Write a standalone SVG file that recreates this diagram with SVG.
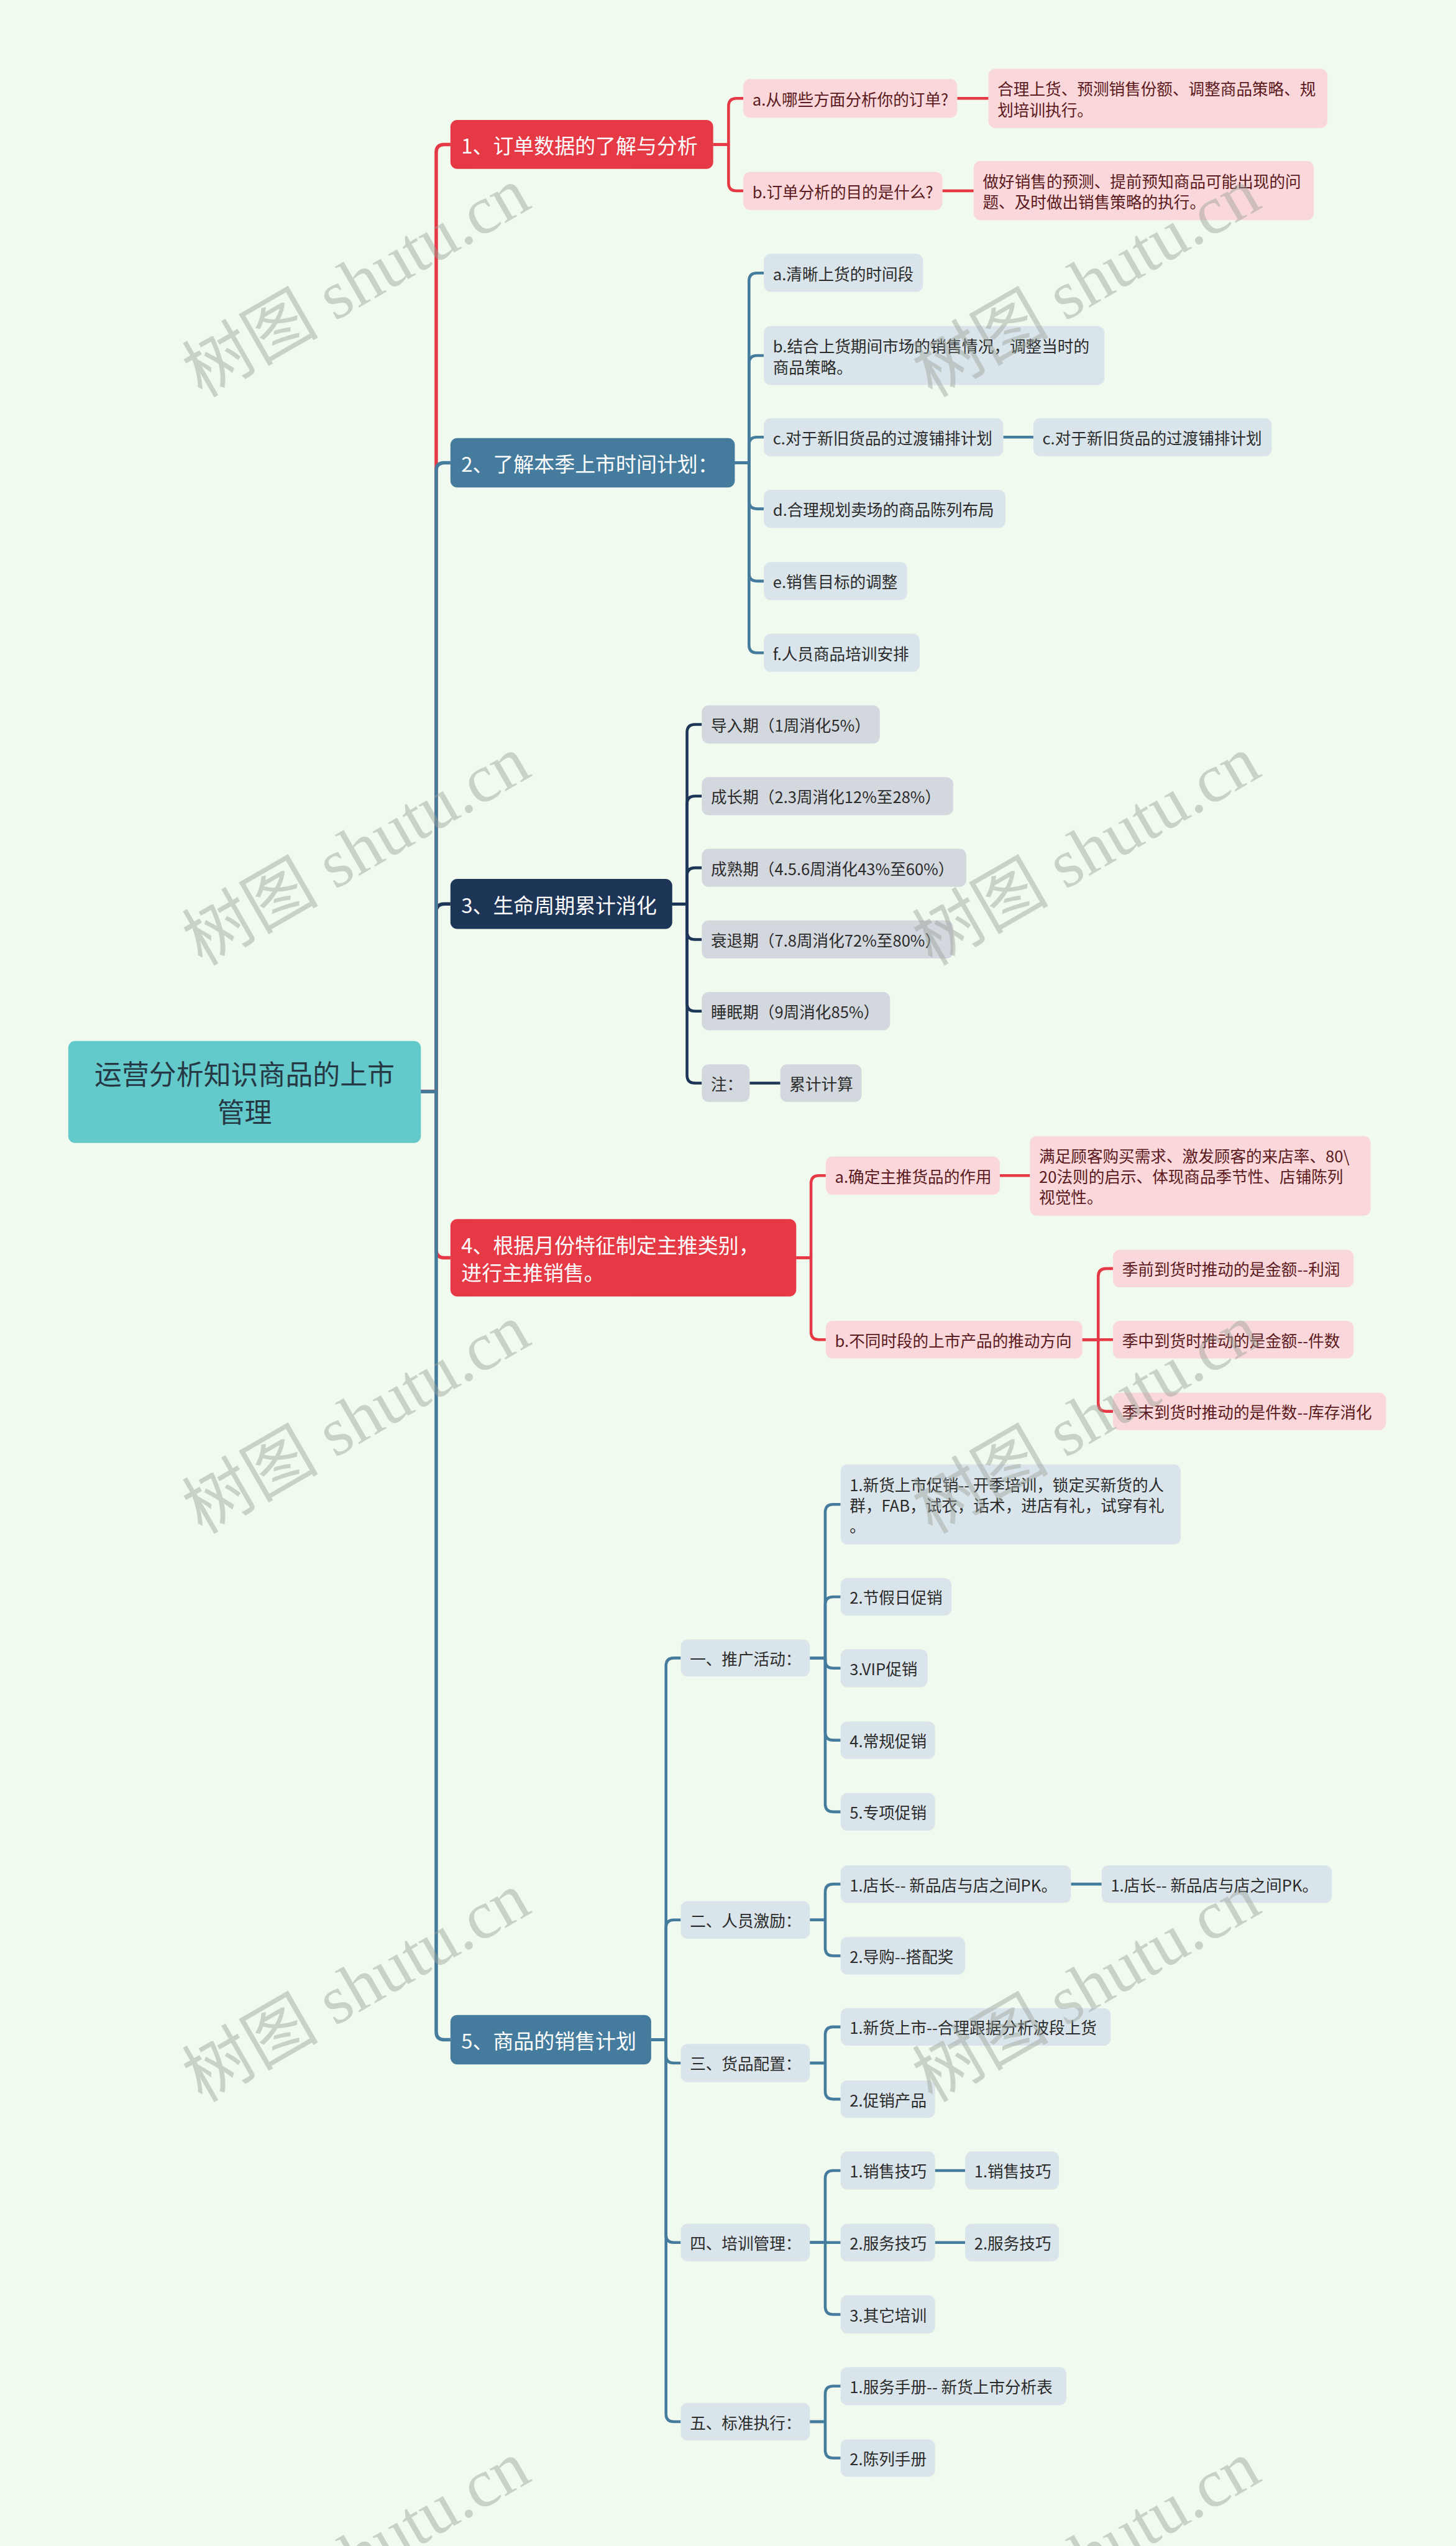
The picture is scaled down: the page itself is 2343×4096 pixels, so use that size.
<svg xmlns="http://www.w3.org/2000/svg" width="2343" height="4096" viewBox="0 0 2343 4096">
<style>
.bg{fill:#F1FAEE}
.root{fill:#63C9CA}
.rt{font-family:"Noto Sans CJK SC","Noto Sans",sans-serif;font-size:48px;fill:#263844;text-anchor:middle;dominant-baseline:central}
.nr{fill:#E63946}.nb{fill:#457B9D}.nn{fill:#1D3557}
.t1{font-family:"Noto Sans CJK SC","Noto Sans",sans-serif;font-size:36px;fill:#FFFFFF;dominant-baseline:central}
.cr{fill:#FAD7DA}.cb{fill:#DAE5EB}.cn{fill:#D3D8DE}
.tr{font-family:"Noto Sans CJK SC","Noto Sans",sans-serif;font-size:28px;fill:#5A1A20;dominant-baseline:central}
.tb{font-family:"Noto Sans CJK SC","Noto Sans",sans-serif;font-size:28px;fill:#2B2B2B;dominant-baseline:central}
.lr,.lb,.ln{fill:none;stroke-width:5;stroke-linejoin:round}
.lr{stroke:#E63946}.lb{stroke:#457B9D}.ln{stroke:#1D3557}
.main{stroke-width:6}
.wm{font-family:"Liberation Serif","Noto Sans CJK SC",serif;font-size:120px;fill:#9AA39A;opacity:0.45}
</style>
<rect class="bg" x="0" y="0" width="2343" height="4096"/>
<g transform="scale(0.9152)">
<g id="connectors">
<path class="ln main" d="M740 1919 H767 V1603 Q767 1589 781 1589 H792"/>
<path class="lr main" d="M740 1919 H767 V268 Q767 254 781 254 H792"/>
<path class="lb main" d="M740 1919 H767 V827.5 Q767 813.5 781 813.5 H792"/>
<path class="lr main" d="M740 1919 H767 V2197 Q767 2211 781 2211 H792"/>
<path class="lb main" d="M740 1919 H767 V3571.5 Q767 3585.5 781 3585.5 H792"/>
<path class="lr" d="M1254 254 H1281 V187 Q1281 173 1295 173 H1307"/>
<path class="lr" d="M1254 254 H1281 V321.5 Q1281 335.5 1295 335.5 H1307"/>
<path class="lr" d="M1683 173 H1738"/>
<path class="lr" d="M1657 335.5 H1712"/>
<path class="lb" d="M1292 813.5 H1317 V494 Q1317 480 1331 480 H1343"/>
<path class="lb" d="M1292 813.5 H1317 V639 Q1317 625 1331 625 H1343"/>
<path class="lb" d="M1292 813.5 H1317 V782.5 Q1317 768.5 1331 768.5 H1343"/>
<path class="lb" d="M1292 813.5 H1317 V880.5 Q1317 894.5 1331 894.5 H1343"/>
<path class="lb" d="M1292 813.5 H1317 V1007.5 Q1317 1021.5 1331 1021.5 H1343"/>
<path class="lb" d="M1292 813.5 H1317 V1133.5 Q1317 1147.5 1331 1147.5 H1343"/>
<path class="lb" d="M1764 768.5 H1817"/>
<path class="ln" d="M1182 1589 H1208 V1287.5 Q1208 1273.5 1222 1273.5 H1234"/>
<path class="ln" d="M1182 1589 H1208 V1413.5 Q1208 1399.5 1222 1399.5 H1234"/>
<path class="ln" d="M1182 1589 H1208 V1539.5 Q1208 1525.5 1222 1525.5 H1234"/>
<path class="ln" d="M1182 1589 H1208 V1637.5 Q1208 1651.5 1222 1651.5 H1234"/>
<path class="ln" d="M1182 1589 H1208 V1763.5 Q1208 1777.5 1222 1777.5 H1234"/>
<path class="ln" d="M1182 1589 H1208 V1890 Q1208 1904 1222 1904 H1234"/>
<path class="ln" d="M1318 1904 H1372"/>
<path class="lr" d="M1400 2211 H1426 V2080.5 Q1426 2066.5 1440 2066.5 H1452"/>
<path class="lr" d="M1400 2211 H1426 V2341 Q1426 2355 1440 2355 H1452"/>
<path class="lr" d="M1758 2066.5 H1811"/>
<path class="lr" d="M1903 2355 H1931 V2244 Q1931 2230 1945 2230 H1957"/>
<path class="lr" d="M1903 2355 H1957"/>
<path class="lr" d="M1903 2355 H1931 V2467 Q1931 2481 1945 2481 H1957"/>
<path class="lb" d="M1145 3585.5 H1171 V2928.5 Q1171 2914.5 1185 2914.5 H1197"/>
<path class="lb" d="M1145 3585.5 H1171 V3389 Q1171 3375 1185 3375 H1197"/>
<path class="lb" d="M1145 3585.5 H1171 V3612.5 Q1171 3626.5 1185 3626.5 H1197"/>
<path class="lb" d="M1145 3585.5 H1171 V3928 Q1171 3942 1185 3942 H1197"/>
<path class="lb" d="M1145 3585.5 H1171 V4243 Q1171 4257 1185 4257 H1197"/>
<path class="lb" d="M1424 2914.5 H1451 V2658.5 Q1451 2644.5 1465 2644.5 H1478"/>
<path class="lb" d="M1424 2914.5 H1451 V2821 Q1451 2807 1465 2807 H1478"/>
<path class="lb" d="M1424 2914.5 H1451 V2918.5 Q1451 2932.5 1465 2932.5 H1478"/>
<path class="lb" d="M1424 2914.5 H1451 V3045 Q1451 3059 1465 3059 H1478"/>
<path class="lb" d="M1424 2914.5 H1451 V3171 Q1451 3185 1465 3185 H1478"/>
<path class="lb" d="M1424 3375 H1451 V3326 Q1451 3312 1465 3312 H1478"/>
<path class="lb" d="M1424 3375 H1451 V3424 Q1451 3438 1465 3438 H1478"/>
<path class="lb" d="M1883 3312 H1937"/>
<path class="lb" d="M1424 3626.5 H1451 V3577 Q1451 3563 1465 3563 H1478"/>
<path class="lb" d="M1424 3626.5 H1451 V3676 Q1451 3690 1465 3690 H1478"/>
<path class="lb" d="M1424 3942 H1451 V3829.5 Q1451 3815.5 1465 3815.5 H1478"/>
<path class="lb" d="M1424 3942 H1478"/>
<path class="lb" d="M1424 3942 H1451 V4054.5 Q1451 4068.5 1465 4068.5 H1478"/>
<path class="lb" d="M1644 3815.5 H1697"/>
<path class="lb" d="M1644 3942 H1697"/>
<path class="lb" d="M1424 4257 H1451 V4208.5 Q1451 4194.5 1465 4194.5 H1478"/>
<path class="lb" d="M1424 4257 H1451 V4307 Q1451 4321 1465 4321 H1478"/>
</g>

<g id="root"><rect class="root" x="120" y="1830" width="620" height="179" rx="12"/>
<text class="rt" x="430" y="1886">运营分析知识商品的上市</text><text class="rt" x="430" y="1953">管理</text></g>

<g id="n1"><rect class="nr" x="792" y="211" width="462" height="86" rx="12"/><text class="t1" x="811" y="254">1、订单数据的了解与分析</text></g>
<g id="n1a"><rect class="cr" x="1307" y="139" width="376" height="68" rx="12"/><text class="tr" x="1323" y="173">a.从哪些方面分析你的订单?</text></g>
<g id="n1a1"><rect class="cr" x="1738" y="121" width="596" height="104" rx="12"/><text class="tr" x="1754" y="155">合理上货、预测销售份额、调整商品策略、规</text><text class="tr" x="1754" y="192">划培训执行。</text></g>
<g id="n1b"><rect class="cr" x="1307" y="302" width="350" height="67" rx="12"/><text class="tr" x="1323" y="335.5">b.订单分析的目的是什么?</text></g>
<g id="n1b1"><rect class="cr" x="1712" y="283" width="598" height="104" rx="12"/><text class="tr" x="1728" y="317">做好销售的预测、提前预知商品可能出现的问</text><text class="tr" x="1728" y="354">题、及时做出销售策略的执行。</text></g>

<g id="n2"><rect class="nb" x="792" y="770" width="500" height="87" rx="12"/><text class="t1" x="811" y="813.5">2、了解本季上市时间计划：</text></g>
<g id="n2a"><rect class="cb" x="1343" y="446" width="280" height="67" rx="12"/><text class="tb" x="1359" y="480">a.清晰上货的时间段</text></g>
<g id="n2b"><rect class="cb" x="1343" y="573" width="599" height="104" rx="12"/><text class="tb" x="1359" y="607">b.结合上货期间市场的销售情况，调整当时的</text><text class="tb" x="1359" y="644">商品策略。</text></g>
<g id="n2c"><rect class="cb" x="1343" y="735" width="421" height="67" rx="12"/><text class="tb" x="1359" y="768.5">c.对于新旧货品的过渡铺排计划</text></g>
<g id="n2c1"><rect class="cb" x="1817" y="735" width="419" height="67" rx="12"/><text class="tb" x="1833" y="768.5">c.对于新旧货品的过渡铺排计划</text></g>
<g id="n2d"><rect class="cb" x="1343" y="861" width="425" height="67" rx="12"/><text class="tb" x="1359" y="894.5">d.合理规划卖场的商品陈列布局</text></g>
<g id="n2e"><rect class="cb" x="1343" y="988" width="252" height="67" rx="12"/><text class="tb" x="1359" y="1021.5">e.销售目标的调整</text></g>
<g id="n2f"><rect class="cb" x="1343" y="1114" width="274" height="67" rx="12"/><text class="tb" x="1359" y="1147.5">f.人员商品培训安排</text></g>

<g id="n3"><rect class="nn" x="792" y="1545" width="390" height="88" rx="12"/><text class="t1" x="811" y="1589">3、生命周期累计消化</text></g>
<g id="n3a"><rect class="cn" x="1234" y="1240" width="313" height="67" rx="12"/><text class="tb" x="1250" y="1273.5">导入期（1周消化5%）</text></g>
<g id="n3b"><rect class="cn" x="1234" y="1366" width="442" height="67" rx="12"/><text class="tb" x="1250" y="1399.5">成长期（2.3周消化12%至28%）</text></g>
<g id="n3c"><rect class="cn" x="1234" y="1492" width="465" height="67" rx="12"/><text class="tb" x="1250" y="1525.5">成熟期（4.5.6周消化43%至60%）</text></g>
<g id="n3d"><rect class="cn" x="1234" y="1618" width="442" height="67" rx="12"/><text class="tb" x="1250" y="1651.5">衰退期（7.8周消化72%至80%）</text></g>
<g id="n3e"><rect class="cn" x="1234" y="1744" width="331" height="67" rx="12"/><text class="tb" x="1250" y="1777.5">睡眠期（9周消化85%）</text></g>
<g id="n3f"><rect class="cn" x="1234" y="1871" width="84" height="66" rx="12"/><text class="tb" x="1250" y="1904">注：</text></g>
<g id="n3f1"><rect class="cn" x="1372" y="1871" width="143" height="66" rx="12"/><text class="tb" x="1388" y="1904">累计计算</text></g>

<g id="n4"><rect class="nr" x="792" y="2143" width="608" height="136" rx="12"/><text class="t1" x="811" y="2187">4、根据月份特征制定主推类别，</text><text class="t1" x="811" y="2235">进行主推销售。</text></g>
<g id="n4a"><rect class="cr" x="1452" y="2033" width="306" height="67" rx="12"/><text class="tr" x="1468" y="2066.5">a.确定主推货品的作用</text></g>
<g id="n4a1"><rect class="cr" x="1811" y="1997" width="599" height="140" rx="12"/><text class="tr" x="1827" y="2031">满足顾客购买需求、激发顾客的来店率、80\</text><text class="tr" x="1827" y="2067">20法则的启示、体现商品季节性、店铺陈列</text><text class="tr" x="1827" y="2103">视觉性。</text></g>
<g id="n4b"><rect class="cr" x="1452" y="2322" width="451" height="66" rx="12"/><text class="tr" x="1468" y="2355">b.不同时段的上市产品的推动方向</text></g>
<g id="n4b1"><rect class="cr" x="1957" y="2197" width="423" height="66" rx="12"/><text class="tr" x="1973" y="2230">季前到货时推动的是金额--利润</text></g>
<g id="n4b2"><rect class="cr" x="1957" y="2322" width="423" height="66" rx="12"/><text class="tr" x="1973" y="2355">季中到货时推动的是金额--件数</text></g>
<g id="n4b3"><rect class="cr" x="1957" y="2448" width="480" height="66" rx="12"/><text class="tr" x="1973" y="2481">季末到货时推动的是件数--库存消化</text></g>

<g id="n5"><rect class="nb" x="792" y="3542" width="353" height="87" rx="12"/><text class="t1" x="811" y="3585.5">5、商品的销售计划</text></g>
<g id="n51"><rect class="cb" x="1197" y="2882" width="227" height="65" rx="12"/><text class="tb" x="1213" y="2914.5">一、推广活动：</text></g>
<g id="n511"><rect class="cb" x="1478" y="2574" width="598" height="141" rx="12"/><text class="tb" x="1494" y="2609">1.新货上市促销-- 开季培训，锁定买新货的人</text><text class="tb" x="1494" y="2645">群，FAB，试衣，话术，进店有礼，试穿有礼</text><text class="tb" x="1494" y="2681">。</text></g>
<g id="n512"><rect class="cb" x="1478" y="2774" width="195" height="66" rx="12"/><text class="tb" x="1494" y="2807">2.节假日促销</text></g>
<g id="n513"><rect class="cb" x="1478" y="2899" width="153" height="67" rx="12"/><text class="tb" x="1494" y="2932.5">3.VIP促销</text></g>
<g id="n514"><rect class="cb" x="1478" y="3026" width="166" height="66" rx="12"/><text class="tb" x="1494" y="3059">4.常规促销</text></g>
<g id="n515"><rect class="cb" x="1478" y="3152" width="166" height="66" rx="12"/><text class="tb" x="1494" y="3185">5.专项促销</text></g>
<g id="n52"><rect class="cb" x="1197" y="3342" width="227" height="66" rx="12"/><text class="tb" x="1213" y="3375">二、人员激励：</text></g>
<g id="n521"><rect class="cb" x="1478" y="3279" width="405" height="66" rx="12"/><text class="tb" x="1494" y="3312">1.店长-- 新品店与店之间PK。</text></g>
<g id="n5211"><rect class="cb" x="1937" y="3279" width="405" height="66" rx="12"/><text class="tb" x="1953" y="3312">1.店长-- 新品店与店之间PK。</text></g>
<g id="n522"><rect class="cb" x="1478" y="3405" width="219" height="66" rx="12"/><text class="tb" x="1494" y="3438">2.导购--搭配奖</text></g>
<g id="n53"><rect class="cb" x="1197" y="3593" width="227" height="67" rx="12"/><text class="tb" x="1213" y="3626.5">三、货品配置：</text></g>
<g id="n531"><rect class="cb" x="1478" y="3530" width="475" height="66" rx="12"/><text class="tb" x="1494" y="3563">1.新货上市--合理跟据分析波段上货</text></g>
<g id="n532"><rect class="cb" x="1478" y="3657" width="166" height="66" rx="12"/><text class="tb" x="1494" y="3690">2.促销产品</text></g>
<g id="n54"><rect class="cb" x="1197" y="3909" width="227" height="66" rx="12"/><text class="tb" x="1213" y="3942">四、培训管理：</text></g>
<g id="n541"><rect class="cb" x="1478" y="3782" width="166" height="67" rx="12"/><text class="tb" x="1494" y="3815.5">1.销售技巧</text></g>
<g id="n5411"><rect class="cb" x="1697" y="3782" width="165" height="67" rx="12"/><text class="tb" x="1713" y="3815.5">1.销售技巧</text></g>
<g id="n542"><rect class="cb" x="1478" y="3909" width="166" height="66" rx="12"/><text class="tb" x="1494" y="3942">2.服务技巧</text></g>
<g id="n5421"><rect class="cb" x="1697" y="3909" width="165" height="66" rx="12"/><text class="tb" x="1713" y="3942">2.服务技巧</text></g>
<g id="n543"><rect class="cb" x="1478" y="4035" width="166" height="67" rx="12"/><text class="tb" x="1494" y="4068.5">3.其它培训</text></g>
<g id="n55"><rect class="cb" x="1197" y="4224" width="227" height="66" rx="12"/><text class="tb" x="1213" y="4257">五、标准执行：</text></g>
<g id="n551"><rect class="cb" x="1478" y="4161" width="397" height="67" rx="12"/><text class="tb" x="1494" y="4194.5">1.服务手册-- 新货上市分析表</text></g>
<g id="n552"><rect class="cb" x="1478" y="4288" width="166" height="66" rx="12"/><text class="tb" x="1494" y="4321">2.陈列手册</text></g>

<g id="watermarks">
<text class="wm" transform="translate(355 700) rotate(-30)">树图 shutu.cn</text>
<text class="wm" transform="translate(1639 700) rotate(-30)">树图 shutu.cn</text>
<text class="wm" transform="translate(355 1699) rotate(-30)">树图 shutu.cn</text>
<text class="wm" transform="translate(1639 1699) rotate(-30)">树图 shutu.cn</text>
<text class="wm" transform="translate(355 2698) rotate(-30)">树图 shutu.cn</text>
<text class="wm" transform="translate(1639 2698) rotate(-30)">树图 shutu.cn</text>
<text class="wm" transform="translate(355 3697) rotate(-30)">树图 shutu.cn</text>
<text class="wm" transform="translate(1639 3697) rotate(-30)">树图 shutu.cn</text>
<text class="wm" transform="translate(355 4696) rotate(-30)">树图 shutu.cn</text>
<text class="wm" transform="translate(1639 4696) rotate(-30)">树图 shutu.cn</text>
</g>
</g>
</svg>
